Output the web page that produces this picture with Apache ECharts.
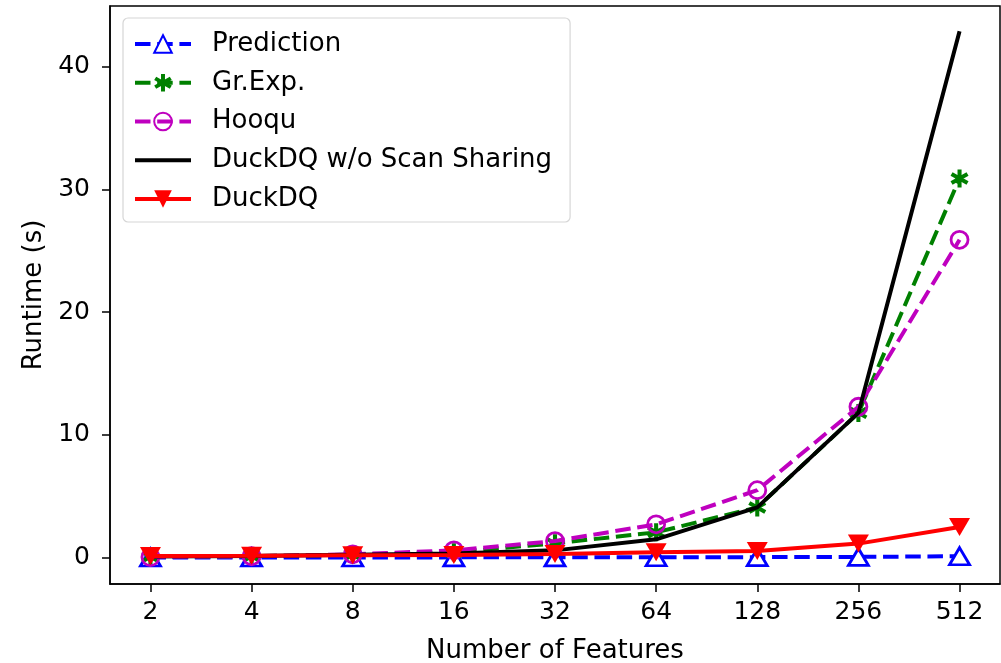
<!DOCTYPE html>
<html>
<head>
<meta charset="utf-8">
<script src="https://cdn.jsdelivr.net/npm/echarts@6/dist/echarts.min.js"></script>
<style>
  html, body { margin: 0; padding: 0; background: #fff; }
  #chart { width: 1001px; height: 663px; }
</style>
</head>
<body>
<div id="chart"></div>
<script>
// x categories (number of features)
const features = ['2', '4', '8', '16', '32', '64', '128', '256', '512'];
const yTicks = [0, 10, 20, 30, 40];

// runtimes in seconds
const prediction = [0.02, 0.02, 0.02, 0.03, 0.03, 0.04, 0.05, 0.07, 0.12];
const grExp      = [0.08, 0.12, 0.25, 0.45, 1.17, 2.07, 4.1, 11.8, 30.9];
const hooqu      = [0.05, 0.12, 0.28, 0.6, 1.36, 2.72, 5.5, 12.3, 25.9];
const noSharing  = [0.1, 0.15, 0.25, 0.35, 0.6, 1.5, 4.1, 11.8, 42.9];
const duckdq     = [0.15, 0.17, 0.2, 0.22, 0.3, 0.45, 0.55, 1.15, 2.5];

const FONT = 'DejaVu Sans';
const LW = 4;
const dash = [15.5, 6.7];

// asterisk marker: three bars crossing at the centre
function asteriskPath() {
  let d = '';
  [90, 30, 150].forEach(a => {
    const r = a * Math.PI / 180;
    const ux = Math.cos(r), uy = Math.sin(r);
    const px = -uy, py = ux;
    const L = 10, W = 2.2;
    const pts = [
      [ux * L + px * W, uy * L + py * W],
      [-ux * L + px * W, -uy * L + py * W],
      [-ux * L - px * W, -uy * L - py * W],
      [ux * L - px * W, uy * L - py * W]
    ];
    d += 'M' + pts.map(p => p[0].toFixed(2) + ' ' + p[1].toFixed(2)).join(' L') + ' Z ';
  });
  return 'path://' + d;
}

const toPairs = arr => arr.map((v, i) => [i, v]);

const chart = echarts.init(document.getElementById('chart'));

const option = {
  animation: false,
  textStyle: { fontFamily: FONT },
  grid: {
    left: 110, right: 1, top: 6, bottom: 79,
    outerBoundsMode: 'none',
    containLabel: false,
    show: true, borderColor: '#000', borderWidth: 1.5, backgroundColor: 'transparent'
  },
  legend: {
    orient: 'vertical',
    left: 123, top: 18,
    padding: [13, 18, 10, 10],
    itemWidth: 56, itemHeight: 22,
    itemGap: 12.75,
    borderColor: '#d6d6d6', borderWidth: 1.2, borderRadius: 5,
    backgroundColor: 'rgba(255,255,255,0.8)',
    lineStyle: { width: LW },
    textStyle: { fontFamily: FONT, fontSize: 26, lineHeight: 26, color: '#000', padding: [0, 0, 0, 16] },
    data: [
      'Prediction', 'Gr.Exp.', 'Hooqu',
      { name: 'DuckDQ w/o Scan Sharing', itemStyle: { opacity: 0 } },
      'DuckDQ'
    ]
  },
  xAxis: {
    type: 'value',
    min: -0.4, max: 8.4,
    name: 'Number of Features',
    nameLocation: 'middle',
    nameGap: 54,
    nameTextStyle: { fontFamily: FONT, fontSize: 26, color: '#000' },
    axisLine: { show: true, onZero: false, lineStyle: { color: '#000', width: 1.5 } },
    axisTick: { show: true, inside: false, length: 8, lineStyle: { color: '#000', width: 1.5 },
      customValues: features.map((f, i) => i) },
    axisLabel: {
      fontFamily: FONT, fontSize: 25, color: '#000', margin: 16,
      customValues: features.map((f, i) => i),
      formatter: v => features[Math.round(v)]
    },
    splitLine: { show: false }
  },
  yAxis: {
    type: 'value',
    min: -2.14, max: 44.95,
    name: 'Runtime (s)',
    nameLocation: 'middle',
    nameGap: 60,
    nameTextStyle: { fontFamily: FONT, fontSize: 26, color: '#000' },
    axisLine: { show: true, onZero: false, lineStyle: { color: '#000', width: 1.5 } },
    axisTick: { show: true, inside: false, length: 8, lineStyle: { color: '#000', width: 1.5 },
      customValues: yTicks },
    axisLabel: {
      fontFamily: FONT, fontSize: 25, color: '#000', margin: 20,
      customValues: yTicks
    },
    splitLine: { show: false }
  },
  series: [
    {
      name: 'Prediction', type: 'line',
      data: toPairs(prediction),
      symbol: 'triangle', symbolSize: [20, 17],
      lineStyle: { color: '#0000ff', width: LW, type: dash },
      itemStyle: { color: '#ffffff', borderColor: '#0000ff', borderWidth: 2.8 },
      z: 2
    },
    {
      name: 'Gr.Exp.', type: 'line',
      data: toPairs(grExp),
      symbol: asteriskPath(), symbolSize: 18,
      lineStyle: { color: '#008000', width: LW, type: dash },
      itemStyle: { color: '#008000', borderWidth: 0 },
      z: 3
    },
    {
      name: 'Hooqu', type: 'line',
      data: toPairs(hooqu),
      symbol: 'circle', symbolSize: 17,
      lineStyle: { color: '#bf00bf', width: LW, type: dash },
      itemStyle: { color: 'rgba(255,255,255,0)', borderColor: '#bf00bf', borderWidth: 2.8 },
      z: 4
    },
    {
      name: 'DuckDQ w/o Scan Sharing', type: 'line',
      data: toPairs(noSharing),
      symbol: 'none', showSymbol: false,
      lineStyle: { color: '#000000', width: LW },
      itemStyle: { color: '#000000' },
      z: 5
    },
    {
      name: 'DuckDQ', type: 'line',
      data: toPairs(duckdq),
      symbol: 'triangle', symbolRotate: 180, symbolSize: [21, 18],
      lineStyle: { color: '#ff0000', width: LW },
      itemStyle: { color: '#ff0000' },
      z: 6
    }
  ]
};

chart.setOption(option);
</script>
</body>
</html>
